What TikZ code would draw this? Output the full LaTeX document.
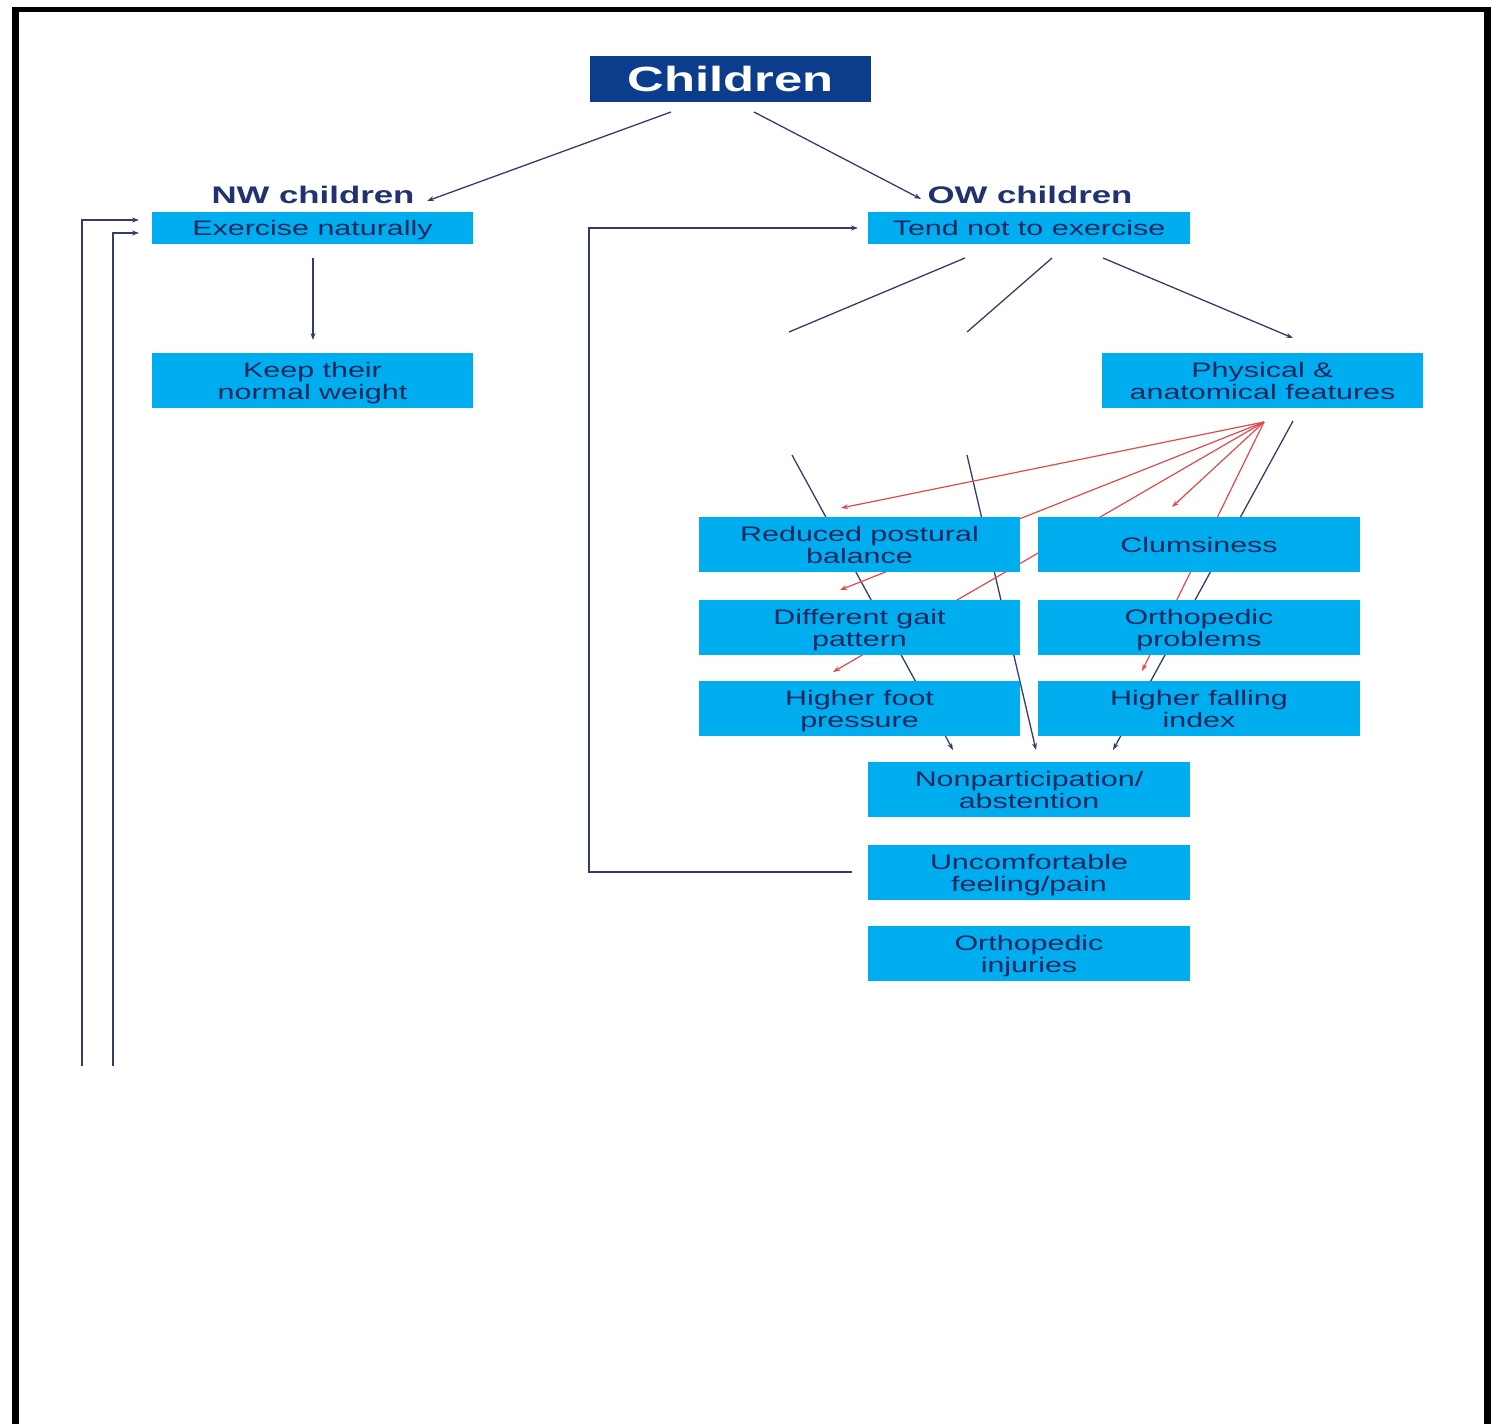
\documentclass[tikz,border=0pt]{standalone}
\usepackage{fontspec}
\usetikzlibrary{arrows.meta,backgrounds}
\newfontfamily\diagfont[FakeStretch=1.45]{Liberation Sans}
\definecolor{boxblue}{RGB}{0,174,239}
\definecolor{headblue}{RGB}{12,60,140}
\definecolor{boxtext}{RGB}{25,40,95}
\definecolor{labtext}{RGB}{32,50,112}
\definecolor{linecol}{RGB}{50,62,105}
\definecolor{redcol}{RGB}{228,72,72}
\begin{document}
\begin{tikzpicture}[x=1pt,y=-1pt,
  box/.style={rectangle, fill=boxblue, minimum width=321pt, minimum height=55pt,
    inner sep=0pt, align=center, text=boxtext, font=\diagfont\fontsize{21}{22}\selectfont,
    text height=37pt, text depth=0pt},
  oneline/.style={text height=15pt, text depth=0pt},
  thinbox/.style={box, oneline, minimum height=32pt},
  head/.style={rectangle, fill=headblue, minimum width=281pt, minimum height=46pt,
    inner sep=0pt, text=white, font=\diagfont\bfseries\fontsize{35}{36}\selectfont,
    text height=25pt, text depth=0pt},
  grouplabel/.style={inner sep=0pt, text=labtext, font=\diagfont\bfseries\fontsize{24}{25}\selectfont,
    text height=17pt, text depth=0pt},
  conn/.style={draw=linecol, line width=1.3pt},
  arr/.style={conn, -{Stealth[length=7pt,width=5pt]}},
  redarr/.style={draw=redcol, line width=1.2pt, -{Stealth[length=7pt,width=5pt]}},
  frame/.style={draw=black}]
\useasboundingbox (0,0) rectangle (1499,1424);

% outer frame, open at the bottom
\draw[frame, line width=5pt] (12,9.5) -- (1491,9.5);
\draw[frame, line width=7pt] (15.5,7) -- (15.5,1424);
\draw[frame, line width=7pt] (1487,7) -- (1487,1424);

% boxes
\node[head] (ch) at (730.5,79) {Children};
\node[grouplabel] (nw) at (313,194.5) {NW children};
\node[grouplabel] (ow) at (1030,194.5) {OW children};
\node[thinbox] (ex) at (312.5,228) {Exercise naturally};
\node[box] (kw) at (312.5,380.5) {Keep their\\normal weight};
\node[thinbox, minimum width=322pt] (tn) at (1029,228) {Tend not to exercise};
\node[box] (pa) at (1262.5,380.5) {Physical \&\\anatomical features};
\node[box] (rp) at (859.5,544.5) {Reduced postural\\balance};
\node[box, oneline, minimum width=322pt] (cl) at (1199,544.5) {Clumsiness};
\node[box] (gp) at (859.5,627.5) {Different gait\\pattern};
\node[box, minimum width=322pt] (op) at (1199,627.5) {Orthopedic\\problems};
\node[box] (fp) at (859.5,708.5) {Higher foot\\pressure};
\node[box, minimum width=322pt] (fi) at (1199,708.5) {Higher falling\\index};
\node[box, minimum width=322pt] (np) at (1029,789.5) {Nonparticipation/\\abstention};
\node[box, minimum width=322pt] (uc) at (1029,872.5) {Uncomfortable\\feeling/pain};
\node[box, minimum width=322pt] (oi) at (1029,953.5) {Orthopedic\\injuries};

% connector end points
\coordinate (ch l) at (671,112);   \coordinate (nw in) at (427,201);
\coordinate (ch r) at (754,112);   \coordinate (ow in) at (921,199);
\coordinate (ex out) at (313,258); \coordinate (kw in) at (313,340);
\coordinate (fb1) at (82,1066);    \coordinate (ex in1) at (139,220);
\coordinate (fb2) at (113,1066);   \coordinate (ex in2) at (139,233);
\coordinate (uc out) at (852,872); \coordinate (loop x) at (589,872);
\coordinate (tn in) at (858,228);
\coordinate (tn o1) at (965,258);  \coordinate (cut1) at (789,332);
\coordinate (tn o2) at (1052,258); \coordinate (cut2) at (967,332);
\coordinate (tn o3) at (1103,258); \coordinate (pa in) at (1293,338);
\coordinate (re1) at (792,455);    \coordinate (np in1) at (953,750);
\coordinate (re2) at (967,455);    \coordinate (np in2) at (1036,750);
\coordinate (pa out) at (1293,421); \coordinate (np in3) at (1113,750);
\coordinate (apex) at (1264,422);
\coordinate (rp in) at (841,508);
\coordinate (gp in) at (840,590);
\coordinate (fp in) at (833,672);
\coordinate (cl in) at (1172,507);
\coordinate (fi in) at (1142,671);

\begin{scope}[on background layer]
  \draw[arr] (ch l) -- (nw in);
  \draw[arr] (ch r) -- (ow in);
  \draw[arr] (ex out) -- (kw in);
  \draw[arr] (fb1) |- (ex in1);
  \draw[arr] (fb2) |- (ex in2);
  \draw[arr] (uc out) -- (loop x) |- (tn in);
  \draw[conn] (tn o1) -- (cut1);
  \draw[conn] (tn o2) -- (cut2);
  \draw[arr] (tn o3) -- (pa in);
  \draw[arr] (re1) -- (np in1);
  \draw[arr] (re2) -- (np in2);
  \draw[arr] (pa out) -- (np in3);
  \draw[redarr] (apex) -- (rp in);
  \draw[redarr] (apex) -- (gp in);
  \draw[redarr] (apex) -- (fp in);
  \draw[redarr] (apex) -- (cl in);
  \draw[redarr] (apex) -- (fi in);
\end{scope}
\end{tikzpicture}
\end{document}
